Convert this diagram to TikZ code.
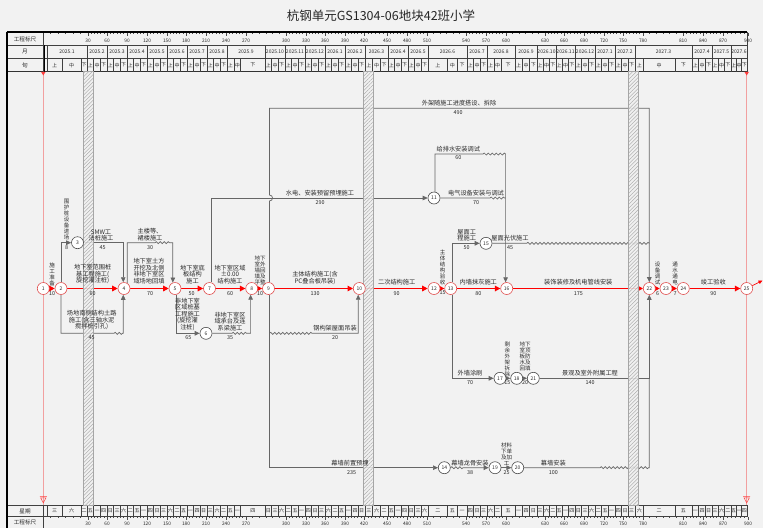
\documentclass[tikz,border=0pt]{standalone}
\usepackage{fontspec}
\newfontfamily\cjk{Noto Sans CJK SC}
\usetikzlibrary{arrows.meta,decorations.pathmorphing,patterns.meta}
\definecolor{bgc}{HTML}{F2F2F2}
\definecolor{lnc}{HTML}{666666}
\definecolor{txc}{HTML}{2A2A2A}
\definecolor{crc}{HTML}{FF0000}
\definecolor{pkc}{HTML}{F2A0A0}
\definecolor{ncr}{HTML}{E05050}
\newcommand\wkd[1]{\ifcase#1 三\or 六\or 二\or 五\or 一\or 四\or 日\fi}
\begin{document}
\begin{tikzpicture}[x=1pt,y=-1pt,
 cn/.style={circle,draw=ncr,fill=white,line width=0.6pt,minimum size=12pt,inner sep=0pt,font=\cjk\fontsize{5}{5}\selectfont,text=txc},
 nn/.style={circle,draw=black!70,fill=white,line width=0.6pt,minimum size=12pt,inner sep=0pt,font=\cjk\fontsize{5}{5}\selectfont,text=txc},
 crit/.style={draw=crc,line width=1.4pt,-{Triangle[length=5.5pt,width=5.5pt]}},
 ed/.style={draw=lnc,line width=0.7pt},
 ar/.style={-{Triangle[length=5pt,width=4.5pt]}},
 wv/.style={decorate,decoration={snake,segment length=4pt,amplitude=1pt}},
 lb/.style={font=\cjk\fontsize{6.2}{6.5}\selectfont,text=txc,align=center,inner sep=0pt,anchor=south},
 lv/.style={font=\cjk\fontsize{5.5}{6}\selectfont,text=txc,align=center,inner sep=0pt,anchor=south},
 nb/.style={font=\cjk\fontsize{5.4}{6}\selectfont,text=txc,inner sep=0pt,anchor=north},
 hd/.style={font=\cjk\fontsize{5.6}{6}\selectfont,text=txc,inner sep=0pt},
 mt/.style={font=\cjk\fontsize{5}{5}\selectfont,text=txc,inner sep=0pt},
 xt/.style={font=\cjk\fontsize{5}{5}\selectfont,text=txc,inner sep=0pt},
 rt/.style={font=\cjk\fontsize{4.8}{5}\selectfont,text=txc,inner sep=0pt},
 gl/.style={draw=black!75,line width=0.45pt},
 tk/.style={draw=black!70,line width=0.35pt},
]
\useasboundingbox (0,0) rectangle (763,528);
\fill[bgc] (0,0) rectangle (763,528);
\node[font=\cjk\fontsize{12.5}{14}\selectfont,text=black!85] (title) at (381,15.5) {杭钢单元GS1304-06地块42班小学};

% ---------- header / footer frame ----------
\draw[gl] (7,45)--(747,45) (7,58.5)--(747,58.5) (7,505)--(747,505) (7,516.5)--(747,516.5);
\draw[black!80,line width=0.7pt] (7,71.5)--(747,71.5);
\draw[gl] (43,32)--(43,71.5) (43,505)--(43,528) (747,32)--(747,71.5) (747,505)--(747,516.5) (47,45)--(47,71.5) (47,505)--(47,516.5);
\draw[black,line width=1.1pt] (44.6,45)--(44.6,71.5);
\draw[black,line width=1.6pt] (6.5,32)--(747,32);
\draw[black,line width=1.6pt] (7,32)--(7,528);
\node[hd] (h1) at (25,39) {工程标尺};
\node[hd] (h2) at (25,52) {月};
\node[hd] (h3) at (25,65) {旬};
\node[hd] (h4) at (25,511) {星期};
\node[hd] (h5) at (25,522.5) {工程标尺};

% months, ten-day cells, weekdays
\foreach \a/\b/\t/\p/\q [count=\i from 0] in {
 47/87/2025.1/0.375/0.85, 87/107/2025.2/0.3333/0.6667, 107/127/2025.3/0.3333/0.6667,
 127/147/2025.4/0.3333/0.6667, 147/167/2025.5/0.3333/0.6667, 167/187/2025.6/0.3333/0.6667,
 187/207/2025.7/0.3333/0.6667, 207/227/2025.8/0.3333/0.6667, 227/265/2025.9/0.18/0.36,
 265/285/2025.10/0.3333/0.6667, 285/305/2025.11/0.3333/0.6667, 305/325/2025.12/0.3333/0.6667,
 325/345/2026.1/0.3333/0.6667, 345/365/2026.2/0.3333/0.6667, 365/388/2026.3/0.3333/0.6667,
 388/408/2026.4/0.3333/0.6667, 408/428/2026.5/0.3333/0.6667, 428/467/2026.6/0.5/0.75,
 467/487/2026.7/0.3333/0.6667, 487/515/2026.8/0.25/0.5, 515/537/2026.9/0.3333/0.6667,
 537/556/2026.10/0.3333/0.6667, 556/575/2026.11/0.3333/0.6667, 575/595/2026.12/0.3333/0.6667,
 595/615/2027.1/0.3333/0.6667, 615/635/2027.2/0.3333/0.6667, 635/692/2027.3/0.15/0.7,
 692/712/2027.4/0.3333/0.6667, 712/731/2027.5/0.3333/0.6667, 731/747/2027.6/0.3333/0.6667} {
  \begin{scope}
    \clip (\a,45) rectangle (\b,58.5);
    \node[mt] (m\i) at ({(\a+\b)/2},51.9) {\t};
  \end{scope}
  \draw[gl] (\b,45) -- (\b,71.5) (\b,505) -- (\b,516.5);
  \pgfmathsetmacro\xa{\a+(\b-\a)*\p}
  \pgfmathsetmacro\xb{\a+(\b-\a)*\q}
  \draw[gl] (\xa,58.5)--(\xa,71.5) (\xb,58.5)--(\xb,71.5) (\xa,505)--(\xa,516.5) (\xb,505)--(\xb,516.5);
  \pgfmathtruncatemacro\wa{mod(3*\i,7)}
  \pgfmathtruncatemacro\wb{mod(3*\i+1,7)}
  \pgfmathtruncatemacro\wc{mod(3*\i+2,7)}
  \node[xt] (xa\i) at ({(\a+\xa)/2},65.2) {上};
  \node[xt] (xb\i) at ({(\xa+\xb)/2},65.2) {中};
  \node[xt] (xc\i) at ({(\xb+\b)/2},65.2) {下};
  \node[xt] (wa\i) at ({(\a+\xa)/2},511) {\wkd{\wa}};
  \node[xt] (wb\i) at ({(\xa+\xb)/2},511) {\wkd{\wb}};
  \node[xt] (wc\i) at ({(\xb+\b)/2},511) {\wkd{\wc}};
}

% rulers
\foreach \d/\x [remember=\x as \px (initially 43), count=\j] in {30/88, 60/107, 90/127, 120/147, 150/167, 180/186, 210/206, 240/226, 270/246, 300/286, 330/306, 360/325, 390/345, 420/364, 450/387, 480/407, 510/427, 540/466, 570/486, 600/506, 630/545, 660/564, 690/584, 720/604, 750/623, 780/643, 810/683, 840/703, 870/723, 900/748} {
  \foreach \k in {1,...,5} {
    \draw[tk] ({\px+(\x-\px)*\k/6},32.8) -- ++(0,1.6);
    \draw[tk] ({\px+(\x-\px)*\k/6},516.8) -- ++(0,1.6);
  }
  \draw[tk] (\x,32.8) -- ++(0,3);
  \draw[tk] (\x,516.8) -- ++(0,3);
  \node[rt] (rt\j) at (\x,40.3) {\d};
  \node[rt] (rb\j) at (\x,523.5) {\d};
}

% ---------- time limit lines ----------
\draw[pkc,line width=0.7pt] (43.3,71.5) -- (43.3,505);
\draw[pkc,line width=0.7pt] (746.7,71.5) -- (746.7,505);
\fill[red!75] (41,71.8) -- (45.6,71.8) -- (43.3,75.5) -- cycle;
\fill[red!75] (744.4,71.8) -- (749,71.8) -- (746.7,75.5) -- cycle;
\draw[red!75,line width=0.5pt] (39.8,496.3)--(46.8,496.3) (40.6,497.8)--(46,497.8)--(43.3,502.8)--cycle;
\draw[red!75,line width=0.5pt] (743.2,496.3)--(750.2,496.3) (744,497.8)--(749.4,497.8)--(746.7,502.8)--cycle;

% ---------- node placeholders ----------
\foreach \n/\x/\y in {1/43.3/288.5, 2/61/288.5, 4/124/288.5, 5/175/288.5, 7/209.5/288.5, 8/251.7/288.5, 9/268.5/288.5, 10/359.3/288.5, 12/434/288.5, 13/450.7/288.5, 16/506.7/288.5, 22/649.3/288.5, 23/666/288.5, 24/683.3/288.5, 25/746.7/288.5}
  \node[cn,opacity=0] (n\n) at (\x,\y) {\n};
\foreach \n/\x/\y in {3/77.5/242.7, 6/206/333.3, 11/434/198, 15/486/243.3, 17/500/378.3, 18/516.7/378.3, 21/533.3/378.3, 14/444.3/467.7, 19/495/467.7, 20/517.7/467.7}
  \node[nn,opacity=0] (n\n) at (\x,\y) {\n};
\coordinate (j9) at (269.5,333.3);

% ---------- critical path ----------
\foreach \s/\e in {1/2, 2/4, 4/5, 5/7, 7/8, 8/9, 9/10, 10/12, 12/13, 13/16, 16/22, 22/23, 23/24, 24/25}
  \draw[crit] (n\s) -- (n\e);
\draw[crc,line width=0.6pt,-{Triangle[length=4pt,width=3.5pt]}] (n25) -- (762.5,280.5);

% ---------- other activities ----------
\draw[ed,ar] (n2.north) |- (n3.west);
\draw[ed,ar] (n3.east) -| (n4.97);
\draw[ed,ar] (n2.south) |- (114,333.3) decorate[wv]{-- (123.3,333.3)} -- (n4.-97);
\draw[ed,ar] (n4.60) |- (155,242.7) decorate[wv]{-- (170.5,242.7)} -| (n5.110);
\draw[ed,ar] (n5.-80) |- (n6.west);
\draw[ed,ar] (n6.east) -- (232,333.3) decorate[wv]{-- (248,333.3)} -| (n8.-100);
\draw[ed,ar] (n7.75) |- (n11.west);
\draw[ed,ar] (n9.80) -- (269.5,201) .. controls (273.5,201) and (273.5,195) .. (269.5,195) -- (269.5,108.3) -| (n22.north);
\draw[ed,ar] (n9.-80) |- (n14.west);
\draw[ed,ar] (j9) decorate[wv]{-- (313,333.3)} -| (n10.-100);
\draw[ed,ar] (n11.80) |- (483,154) decorate[wv]{-- (505.5,154)} -| (n16.100);
\draw[ed] (n11.east) -- (490,198) decorate[wv]{-- (505.7,198)};
\draw[ed,ar] (n13.75) |- (n15.west);
\draw[ed] (n15.east) -- (526.7,243.3) decorate[wv]{-- (649.3,243.3)};
\draw[ed,ar] (n13.-75) |- (n17.west);
\draw[ed,ar] (n17) -- (n18);
\draw[ed,ar] (n18) -- (n21);
\draw[ed,ar] (n21.east) -| (n22.south);
\draw[ed,ar] (n14.east) decorate[wv]{-- (465,467.7)} -- (n19.west);
\draw[ed,ar] (n19) -- (n20);
\draw[ed] (n20.east) -- (600,467.7) decorate[wv]{-- (649.3,467.7)} -- (649.3,378.3);

% ---------- holiday bands ----------
\foreach \x/\nm in {83/bA,363/bB,628/bC} {
  \fill[white!88!gray,opacity=0.85] (\x,71.5) rectangle ++(10.5,433.5);
  \fill[pattern={Lines[angle=45,distance=2.6pt,line width=0.35pt]},pattern color=gray!75] (\x,71.5) rectangle ++(10.5,433.5);
  \draw[gray!70,line width=0.35pt] (\x,71.5) rectangle ++(10.5,433.5);
  \coordinate (\nm) at (\x,71.5);
}

% ---------- visible nodes ----------
\foreach \n in {1,2,4,5,7,8,9,10,12,13,16,22,23,24,25}
  \node[cn] (v\n) at (n\n) {\n};
\foreach \n in {3,6,11,15,17,18,21,14,19,20}
  \node[nn] (v\n) at (n\n) {\n};

% ---------- labels ----------
\node[lv] (L1) at (52,286) {施\\工\\准\\备};            \node[nb] (D1) at (52,291) {10};
\node[lb] (L2) at (92.7,284) {地下室范围桩\\基工程施工(\\旋挖灌注桩)}; \node[nb] (D2) at (92.5,291) {60};
\node[lb] (L3) at (149,284) {地下室土方\\开挖及北侧\\非地下室区\\域场地回填}; \node[nb] (D3) at (150,291) {70};
\node[lb] (L4) at (192.5,284) {地下室底\\板结构\\施工};   \node[nb] (D4) at (191.7,291) {50};
\node[lb] (L5) at (230,284) {地下室区域\\±0.00\\结构施工}; \node[nb] (D5) at (230,291) {60};
\node[lv] (L6) at (260,285) {地下\\室外\\墙回\\填及\\平整}; \node[nb] (D6) at (260,291) {10};
\node[lb] (L7) at (315,284.5) {主体结构施工(含\\PC叠合板吊装)}; \node[nb] (D7) at (315,291) {130};
\node[lb] (L8) at (396.7,285) {二次结构施工};          \node[nb] (D8) at (396.7,291) {90};
\node[lv] (L9) at (442.5,285) {主\\体\\结\\构\\验\\收};  \node[nb] (D9) at (442.7,290.5) {15};
\node[lb] (L10) at (478.3,285.5) {内墙抹灰施工};       \node[nb] (D10) at (478.3,291) {80};
\node[lb] (L11) at (578.3,285.5) {装饰装修及机电管线安装}; \node[nb] (D11) at (578.3,291) {175};
\node[lv] (L12) at (657.5,285) {设\\备\\调\\试};        \node[nb] (D12) at (657.5,291.5) {6};
\node[lv] (L13) at (675,285) {通\\水\\通\\电};          \node[nb] (D13) at (675,291.5) {7};
\node[lb] (L14) at (713.3,285.5) {竣工验收};           \node[nb] (D14) at (713.3,291) {90};

\node[lv] (L15) at (66.5,240.5) {围\\护\\桩\\设\\备\\进\\场}; \node[nb] (D15) at (66.7,245) {8};
\node[lb] (L16) at (101,241.2) {SMW工\\法桩施工};      \node[nb] (D16) at (102.7,245) {45};
\node[lb] (L17) at (91.7,330) {场地南侧结构土路\\施工(含三轴水泥\\搅拌桩引孔)}; \node[nb] (D17) at (91.7,335) {45};
\node[lb] (L18) at (150,241) {主楼等、\\裙楼施工};      \node[nb] (D18) at (150,245) {30};
\node[lb] (L19) at (187.5,330.5) {非地下室\\区域桩基\\工程施工\\(旋挖灌\\注桩)}; \node[nb] (D19) at (188.3,335) {65};
\node[lb] (L20) at (230,331) {非地下室区\\域承台及连\\系梁施工}; \node[nb] (D20) at (230,335) {35};
\node[lb] (L21) at (320,196.5) {水电、安装预留预埋施工}; \node[nb] (D21) at (320,200) {290};
\node[lb] (L22) at (459,106.5) {外架随施工进度搭设、拆除}; \node[nb] (D22) at (458,110.5) {490};
\node[lb] (L23) at (335,331.5) {钢构架屋面吊装};       \node[nb] (D23) at (335,335.5) {20};
\node[lb] (L24) at (350,466) {幕墙前置预埋};           \node[nb] (D24) at (351.7,470) {235};
\node[lb] (L25) at (458.3,152.5) {给排水安装调试};     \node[nb] (D25) at (458.3,155.5) {60};
\node[lb] (L26) at (476,196.5) {电气设备安装与调试};   \node[nb] (D26) at (476,200) {70};
\node[lb] (L27) at (466.7,241.5) {屋面工\\程施工};     \node[nb] (D27) at (466.7,245) {50};
\node[lb] (L28) at (510,241.5) {屋面光伏施工};         \node[nb] (D28) at (510,245) {45};
\node[lb] (L29) at (470,376.5) {外墙涂刷};             \node[nb] (D29) at (470,380.5) {70};
\node[lv] (L30) at (507.3,377) {剩\\余\\外\\架\\拆\\除}; \node[nb] (D30) at (507.3,380.5) {15};
\node[lv] (L31) at (525,371.5) {地下\\室顶\\板防\\水及\\回填}; \node[nb] (D31) at (525,380.5) {20};
\node[lb] (L32) at (590,376.5) {景观及室外附属工程};   \node[nb] (D32) at (590,380.5) {140};
\node[lb] (L33) at (470,466) {幕墙龙骨安装};           \node[nb] (D33) at (470,470) {38};
\node[lv] (L34) at (506.7,466) {材料\\下单\\及加\\工}; \node[nb] (D34) at (506.7,470) {25};
\node[lb] (L35) at (553.3,466) {幕墙安装};             \node[nb] (D35) at (553.3,470) {100};
\end{tikzpicture}
\end{document}
